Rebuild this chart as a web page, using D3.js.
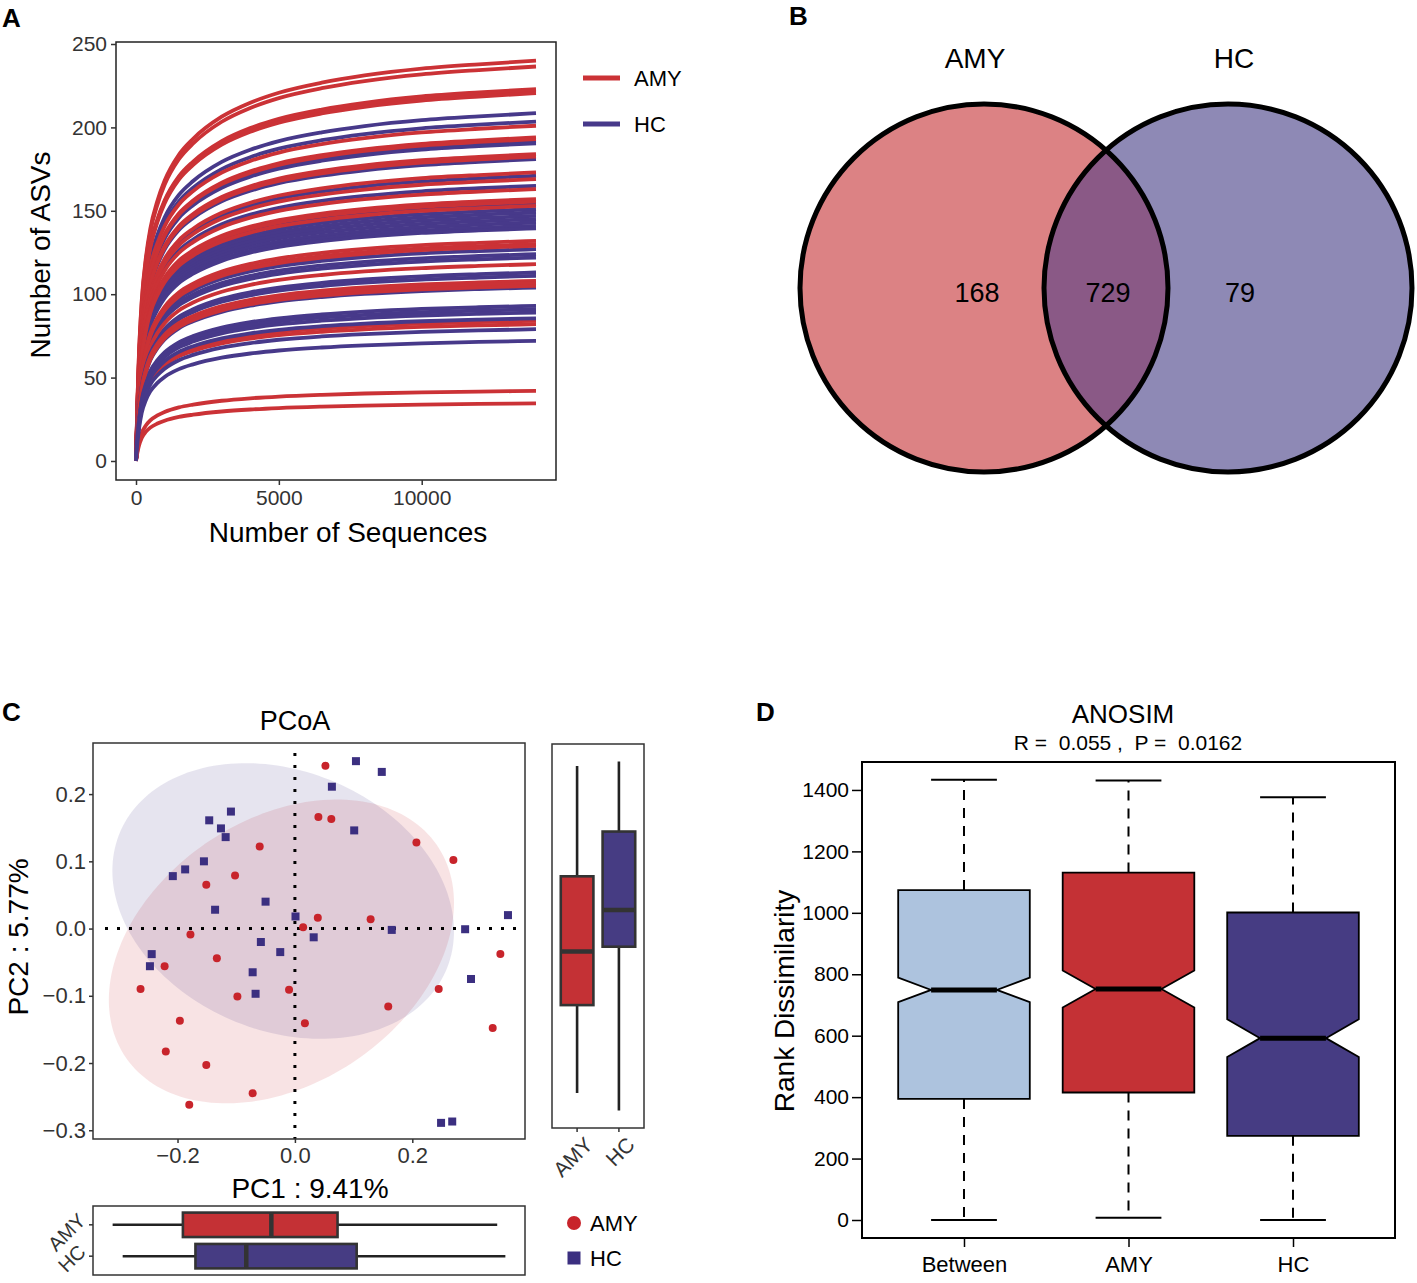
<!DOCTYPE html>
<html>
<head>
<meta charset="utf-8">
<script src="https://cdn.jsdelivr.net/npm/d3@7"></script>
<style>
  body { margin: 0; background: #fff; }
  svg text { font-family: "Liberation Sans", Arial, sans-serif; }
</style>
</head>
<body>
<svg id="fig" width="1417" height="1283"></svg>
<script>
// ---------------- data ----------------
const groups = ["AMY", "HC"];

const rareDepth = [0, 50, 100, 200, 350, 500, 750, 1000, 1500, 2000, 3000, 4000, 5000, 6500, 8000, 10000, 12000, 14000];
const rareFrac = [0, 0.15, 0.26, 0.40, 0.51, 0.58, 0.65, 0.70, 0.765, 0.805, 0.86, 0.895, 0.92, 0.945, 0.963, 0.98, 0.991, 1.0];
const amyFinal = [240, 236.5, 223, 222, 220.5, 201, 194, 193, 184, 182.5, 173, 169, 163, 157, 155.5, 153, 132, 130, 129, 118, 108, 106.5, 105, 84, 82, 42, 34.5];
const hcFinal = [208.5, 203.5, 192, 190.5, 181, 171, 165, 154, 151, 149, 147, 145, 143, 141, 139.5, 127, 124, 122, 113, 111, 104, 93, 91, 89, 85.5, 79, 72];
const rareXTicks = [0, 5000, 10000];
const rareYTicks = [0, 50, 100, 150, 200, 250];

// B: venn
const vennSets = ["AMY", "HC"];
const vennCounts = [168, 729, 79]; // AMY only, shared, HC only

// C: PCoA sample coordinates
const amyPC1 = [0.052, 0.040, 0.062, 0.207, 0.270, -0.060, -0.102, -0.151, 0.039, 0.129, 0.014, -0.178, -0.133, 0.350, -0.222, -0.263, -0.098, -0.010, 0.245, 0.159, -0.196, 0.017, 0.337, -0.220, -0.151, -0.072, -0.180];
const amyPC2 = [0.242, 0.166, 0.163, 0.128, 0.102, 0.122, 0.079, 0.065, 0.016, 0.014, 0.002, -0.009, -0.044, -0.038, -0.056, -0.090, -0.101, -0.091, -0.090, -0.116, -0.137, -0.141, -0.148, -0.183, -0.203, -0.245, -0.262];
const hcPC1 = [0.104, 0.148, 0.063, -0.109, -0.146, -0.126, -0.118, 0.101, -0.155, -0.187, -0.208, -0.050, -0.136, 0.001, 0.165, 0.290, 0.363, 0.032, -0.058, -0.025, -0.244, -0.247, -0.072, -0.067, 0.300, 0.249, 0.268];
const hcPC2 = [0.249, 0.233, 0.211, 0.174, 0.161, 0.149, 0.136, 0.146, 0.100, 0.088, 0.078, 0.040, 0.028, 0.018, -0.002, -0.001, 0.020, -0.013, -0.020, -0.035, -0.038, -0.056, -0.065, -0.097, -0.075, -0.289, -0.287];
// confidence ellipses (AMY, HC): centre, half extents, correlation
const ellCx = [-0.023, -0.020];
const ellCy = [-0.034, 0.041];
const ellSx = [0.294, 0.291];
const ellSy = [0.226, 0.205];
const ellRho = [0.32, -0.22];
const pcoaXTicks = [-0.2, 0, 0.2];
const pcoaYTicks = [-0.3, -0.2, -0.1, 0, 0.1, 0.2];

// D: ANOSIM boxplot stats
const anosimGroups = ["Between", "AMY", "HC"];
const anosimLow = [0, 7, 0];
const anosimQ1 = [394, 415, 274];
const anosimMed = [749, 752, 592];
const anosimQ3 = [1074, 1131, 1001];
const anosimHigh = [1433, 1431, 1376];
const anosimN = [729, 351, 351];
const anosimYTicks = [0, 200, 400, 600, 800, 1000, 1200, 1400];

// ---------------- styling ----------------
const FONT = "Liberation Sans, Arial, sans-serif";
const red = "#CB3236", blue = "#47398A";
const ptRed = "#C8242B", ptBlue = "#3B2F80";
const boxRed = "#C43135", boxBlue = "#463C83";

const svg = d3.select("#fig");

function panelLabel(t, x, y) {
  svg.append("text").text(t).attr("x", x).attr("y", y)
    .attr("font-size", 26).attr("font-weight", "bold");
}

function styleAxis(g, size, color) {
  g.attr("font-family", FONT).attr("font-size", size);
  g.select(".domain").remove();
  g.selectAll(".tick line").attr("stroke", color).attr("stroke-width", 1.5);
  g.selectAll(".tick text").attr("fill", color);
}

// ---------------- A: rarefaction ----------------
{
  const x = d3.scaleLinear().domain([-700, 14700]).range([116, 556]);
  const y = d3.scaleLinear().domain([-11.4, 251.2]).range([480, 42]);
  const line = d3.line().x(d => x(d[0])).y(d => y(d[1])).curve(d3.curveMonotoneX);
  const g = svg.append("g");
  const n = Math.max(amyFinal.length, hcFinal.length);
  for (let i = 0; i < n; i++) {
    [[amyFinal, red], [hcFinal, blue]].forEach(([arr, col]) => {
      if (i >= arr.length) return;
      g.append("path")
        .datum(rareDepth.map((dp, k) => [dp, rareFrac[k] * arr[i]]))
        .attr("d", line).attr("fill", "none")
        .attr("stroke", col).attr("stroke-width", 3.8);
    });
  }
  svg.append("rect").attr("x", 116).attr("y", 42).attr("width", 440).attr("height", 438)
    .attr("fill", "none").attr("stroke", "#222").attr("stroke-width", 1.5);

  const ax = svg.append("g").attr("transform", "translate(0,480)")
    .call(d3.axisBottom(x).tickValues(rareXTicks).tickFormat(d3.format("d")).tickSize(5).tickPadding(5));
  styleAxis(ax, 21, "#333");
  const ay = svg.append("g").attr("transform", "translate(116,0)")
    .call(d3.axisLeft(y).tickValues(rareYTicks).tickFormat(d3.format("d")).tickSize(5).tickPadding(4));
  styleAxis(ay, 21, "#333");

  svg.append("text").text("Number of Sequences").attr("x", 348).attr("y", 542)
    .attr("text-anchor", "middle").attr("font-size", 28);
  svg.append("text").text("Number of ASVs")
    .attr("transform", "translate(50,255) rotate(-90)")
    .attr("text-anchor", "middle").attr("font-size", 28);

  // legend
  groups.forEach((gname, i) => {
    const ly = 78 + i * 46;
    svg.append("line").attr("x1", 583).attr("x2", 620).attr("y1", ly).attr("y2", ly)
      .attr("stroke", i ? blue : red).attr("stroke-width", 5);
    svg.append("text").text(gname).attr("x", 634).attr("y", ly + 8).attr("font-size", 22);
  });
  panelLabel("A", 2, 27);
}

// ---------------- B: venn ----------------
{
  const cx = [984, 1228], cy = 288, r = 184;
  const defs = svg.append("defs");
  defs.append("clipPath").attr("id", "clipAmy")
    .append("circle").attr("cx", cx[0]).attr("cy", cy).attr("r", r);
  svg.append("circle").attr("cx", cx[0]).attr("cy", cy).attr("r", r).attr("fill", "#DC8284");
  svg.append("circle").attr("cx", cx[1]).attr("cy", cy).attr("r", r).attr("fill", "#8E89B5");
  svg.append("circle").attr("cx", cx[1]).attr("cy", cy).attr("r", r).attr("fill", "#8A5986")
    .attr("clip-path", "url(#clipAmy)");
  cx.forEach(c => svg.append("circle").attr("cx", c).attr("cy", cy).attr("r", r)
    .attr("fill", "none").attr("stroke", "#000").attr("stroke-width", 5));

  vennSets.forEach((s, i) => svg.append("text").text(s)
    .attr("x", i ? 1234 : 975).attr("y", 68).attr("text-anchor", "middle").attr("font-size", 28));
  const labX = [977, 1108, 1240];
  vennCounts.forEach((v, i) => svg.append("text").text(v)
    .attr("x", labX[i]).attr("y", 302).attr("text-anchor", "middle").attr("font-size", 27));
  panelLabel("B", 789, 25);
}

// ---------------- C: PCoA ----------------
{
  const L = 93, R = 525, T = 743, B = 1139;
  const x = d3.scaleLinear().domain([-0.344, 0.392]).range([L, R]);
  const y = d3.scaleLinear().domain([-0.313, 0.276]).range([B, T]);
  const fmt = d3.format(".1f");

  // ellipses
  const tt = d3.range(0, 2 * Math.PI + 0.01, Math.PI / 90);
  const ellLine = d3.line().x(d => x(d[0])).y(d => y(d[1]));
  [ptRed, ptBlue].forEach((col, i) => {
    const pts = tt.map(t => [
      ellCx[i] + ellSx[i] * Math.cos(t),
      ellCy[i] + ellSy[i] * (ellRho[i] * Math.cos(t) + Math.sqrt(1 - ellRho[i] ** 2) * Math.sin(t))
    ]);
    svg.append("path").attr("d", ellLine(pts) + "Z").attr("fill", col).attr("fill-opacity", 0.13);
  });

  // zero lines
  svg.append("line").attr("x1", x(0)).attr("x2", x(0)).attr("y1", T + 10).attr("y2", B)
    .attr("stroke", "#000").attr("stroke-width", 3).attr("stroke-dasharray", "3,9");
  svg.append("line").attr("x1", L + 12).attr("x2", R - 4).attr("y1", y(0)).attr("y2", y(0))
    .attr("stroke", "#000").attr("stroke-width", 3).attr("stroke-dasharray", "3,9");

  // points
  svg.append("g").selectAll("circle").data(d3.zip(amyPC1, amyPC2)).join("circle")
    .attr("cx", d => x(d[0])).attr("cy", d => y(d[1])).attr("r", 4).attr("fill", ptRed);
  svg.append("g").selectAll("rect").data(d3.zip(hcPC1, hcPC2)).join("rect")
    .attr("x", d => x(d[0]) - 4).attr("y", d => y(d[1]) - 4)
    .attr("width", 8).attr("height", 8).attr("fill", ptBlue);

  svg.append("rect").attr("x", L).attr("y", T).attr("width", R - L).attr("height", B - T)
    .attr("fill", "none").attr("stroke", "#333").attr("stroke-width", 1.5);

  const ax = svg.append("g").attr("transform", `translate(0,${B})`)
    .call(d3.axisBottom(x).tickValues(pcoaXTicks).tickFormat(fmt).tickSize(4).tickPadding(4));
  styleAxis(ax, 22, "#333");
  const ay = svg.append("g").attr("transform", `translate(${L},0)`)
    .call(d3.axisLeft(y).tickValues(pcoaYTicks).tickFormat(fmt).tickSize(4).tickPadding(3));
  styleAxis(ay, 22, "#333");

  svg.append("text").text("PCoA").attr("x", 295).attr("y", 730)
    .attr("text-anchor", "middle").attr("font-size", 27);
  svg.append("text").text("PC1 : 9.41%").attr("x", 310).attr("y", 1198)
    .attr("text-anchor", "middle").attr("font-size", 28);
  svg.append("text").text("PC2 : 5.77%")
    .attr("transform", "translate(28,937) rotate(-90)")
    .attr("text-anchor", "middle").attr("font-size", 28);

  // box statistics (ggplot style, type 7 quantiles)
  function boxStats(v) {
    const s = v.slice().sort(d3.ascending);
    const q1 = d3.quantileSorted(s, 0.25), med = d3.quantileSorted(s, 0.5), q3 = d3.quantileSorted(s, 0.75);
    const iqr = q3 - q1;
    const lo = d3.min(s.filter(d => d >= q1 - 1.5 * iqr));
    const hi = d3.max(s.filter(d => d <= q3 + 1.5 * iqr));
    return { q1, med, q3, lo, hi };
  }
  const fills = [boxRed, boxBlue];

  // bottom marginal box (PC1)
  {
    const bT = 1206, bB = 1275;
    const allX = amyPC1.concat(hcPC1);
    const ext = d3.extent(allX), pad = (ext[1] - ext[0]) * 0.05;
    const bx = d3.scaleLinear().domain([ext[0] - pad, ext[1] + pad]).range([L, R]);
    const by = d3.scalePoint().domain(groups).range([bT, bB]).padding(0.6);
    const h = by.step() * 0.78;
    [amyPC1, hcPC1].forEach((v, i) => {
      const st = boxStats(v), cy = by(groups[i]);
      svg.append("line").attr("x1", bx(st.lo)).attr("x2", bx(st.hi)).attr("y1", cy).attr("y2", cy)
        .attr("stroke", "#222").attr("stroke-width", 2.6);
      svg.append("rect").attr("x", bx(st.q1)).attr("y", cy - h / 2)
        .attr("width", bx(st.q3) - bx(st.q1)).attr("height", h)
        .attr("fill", fills[i]).attr("stroke", "#333").attr("stroke-width", 2.6);
      svg.append("line").attr("x1", bx(st.med)).attr("x2", bx(st.med))
        .attr("y1", cy - h / 2).attr("y2", cy + h / 2)
        .attr("stroke", "#333").attr("stroke-width", 4.5);
      svg.append("line").attr("x1", L - 4).attr("x2", L).attr("y1", cy).attr("y2", cy)
        .attr("stroke", "#333").attr("stroke-width", 1.5);
      svg.append("text").text(groups[i])
        .attr("transform", `translate(${L - 6},${cy - 3}) rotate(-45)`)
        .attr("text-anchor", "end").attr("font-size", 20).attr("fill", "#333");
    });
    svg.append("rect").attr("x", L).attr("y", bT).attr("width", R - L).attr("height", bB - bT)
      .attr("fill", "none").attr("stroke", "#333").attr("stroke-width", 1.5);
  }

  // right marginal box (PC2)
  {
    const rL = 552, rR = 644, rT = 744, rB = 1128;
    const allY = amyPC2.concat(hcPC2);
    const ext = d3.extent(allY), pad = (ext[1] - ext[0]) * 0.05;
    const ry = d3.scaleLinear().domain([ext[0] - pad, ext[1] + pad]).range([rB, rT]);
    const rx = d3.scalePoint().domain(groups).range([rL, rR]).padding(0.6);
    const w = rx.step() * 0.78;
    [amyPC2, hcPC2].forEach((v, i) => {
      const st = boxStats(v), cx = rx(groups[i]);
      svg.append("line").attr("x1", cx).attr("x2", cx).attr("y1", ry(st.lo)).attr("y2", ry(st.hi))
        .attr("stroke", "#222").attr("stroke-width", 2.6);
      svg.append("rect").attr("x", cx - w / 2).attr("y", ry(st.q3))
        .attr("width", w).attr("height", ry(st.q1) - ry(st.q3))
        .attr("fill", fills[i]).attr("stroke", "#333").attr("stroke-width", 2.6);
      svg.append("line").attr("x1", cx - w / 2).attr("x2", cx + w / 2)
        .attr("y1", ry(st.med)).attr("y2", ry(st.med))
        .attr("stroke", "#333").attr("stroke-width", 4.5);
      svg.append("line").attr("x1", cx).attr("x2", cx).attr("y1", rB).attr("y2", rB + 4)
        .attr("stroke", "#333").attr("stroke-width", 1.5);
      svg.append("text").text(groups[i])
        .attr("transform", `translate(${cx + 17},${rB + 18}) rotate(-45)`)
        .attr("text-anchor", "end").attr("font-size", 21).attr("fill", "#333");
    });
    svg.append("rect").attr("x", rL).attr("y", rT).attr("width", rR - rL).attr("height", rB - rT)
      .attr("fill", "none").attr("stroke", "#333").attr("stroke-width", 1.5);
  }

  // legend
  svg.append("circle").attr("cx", 574).attr("cy", 1223).attr("r", 7).attr("fill", ptRed);
  svg.append("text").text("AMY").attr("x", 590).attr("y", 1231).attr("font-size", 22);
  svg.append("rect").attr("x", 567.5).attr("y", 1251.5).attr("width", 13).attr("height", 13).attr("fill", ptBlue);
  svg.append("text").text("HC").attr("x", 590).attr("y", 1266).attr("font-size", 22);

  panelLabel("C", 2, 721);
}

// ---------------- D: ANOSIM ----------------
{
  const L = 862, R = 1395, T = 762, B = 1238;
  const x = d3.scaleLinear().domain([0.38, 3.62]).range([L, R]);
  const y = d3.scaleLinear().domain([-58.6, 1491]).range([B, T]);
  const cols = ["#ADC3DE", boxRed, boxBlue];
  const w = 0.4;

  anosimGroups.forEach((gname, i) => {
    const xc = i + 1;
    const q1 = anosimQ1[i], q3 = anosimQ3[i], med = anosimMed[i];
    const nh = 1.58 * (q3 - q1) / Math.sqrt(anosimN[i]);
    // whiskers
    [[q3, anosimHigh[i]], [q1, anosimLow[i]]].forEach(([a, b]) => {
      svg.append("line").attr("x1", x(xc)).attr("x2", x(xc)).attr("y1", y(a)).attr("y2", y(b))
        .attr("stroke", "#000").attr("stroke-width", 2).attr("stroke-dasharray", "10,8");
      svg.append("line").attr("x1", x(xc - w / 2)).attr("x2", x(xc + w / 2)).attr("y1", y(b)).attr("y2", y(b))
        .attr("stroke", "#000").attr("stroke-width", 2);
    });
    const pts = [[xc - w, q1], [xc - w, med - nh], [xc - w / 2, med], [xc - w, med + nh], [xc - w, q3],
                 [xc + w, q3], [xc + w, med + nh], [xc + w / 2, med], [xc + w, med - nh], [xc + w, q1]];
    svg.append("polygon").attr("points", pts.map(p => [x(p[0]), y(p[1])].join(",")).join(" "))
      .attr("fill", cols[i]).attr("stroke", "#000").attr("stroke-width", 1.8);
    svg.append("line").attr("x1", x(xc - w / 2)).attr("x2", x(xc + w / 2)).attr("y1", y(med)).attr("y2", y(med))
      .attr("stroke", "#000").attr("stroke-width", 5);
  });

  svg.append("rect").attr("x", L).attr("y", T).attr("width", R - L).attr("height", B - T)
    .attr("fill", "none").attr("stroke", "#000").attr("stroke-width", 2);

  const ay = svg.append("g").attr("transform", `translate(${L},0)`)
    .call(d3.axisLeft(y).tickValues(anosimYTicks).tickFormat(d3.format("d")).tickSize(10).tickPadding(3));
  styleAxis(ay, 21, "#000");
  const ax = svg.append("g").attr("transform", `translate(0,${B})`)
    .call(d3.axisBottom(x).tickValues([1, 2, 3]).tickFormat((d, i) => anosimGroups[i]).tickSize(9).tickPadding(9));
  styleAxis(ax, 22, "#000");

  svg.append("text").text("ANOSIM").attr("x", 1123).attr("y", 723)
    .attr("text-anchor", "middle").attr("font-size", 26);
  svg.append("text").text("R =  0.055 ,  P =  0.0162").attr("x", 1128).attr("y", 750)
    .attr("text-anchor", "middle").attr("font-size", 21)
    .style("white-space", "pre");
  svg.append("text").text("Rank Dissimilarity")
    .attr("transform", "translate(794,1001) rotate(-90)")
    .attr("text-anchor", "middle").attr("font-size", 28);

  panelLabel("D", 756, 721);
}
</script>
</body>
</html>
